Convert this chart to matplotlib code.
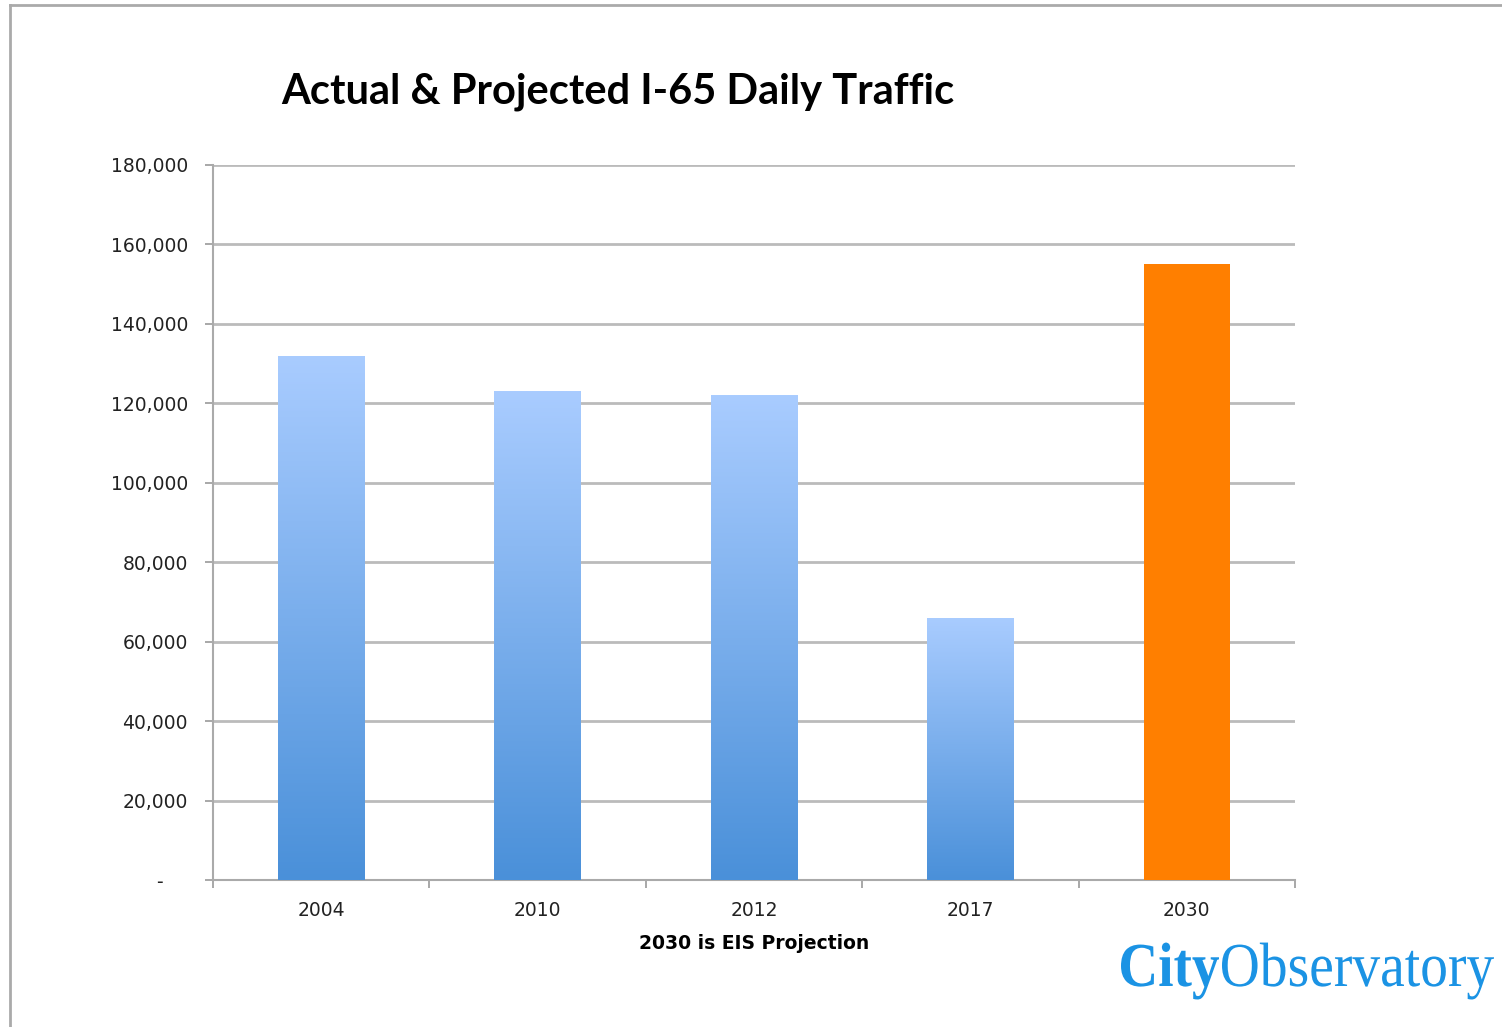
import matplotlib.pyplot as plt
import numpy as np
from matplotlib.colors import LinearSegmentedColormap
from matplotlib.lines import Line2D
from matplotlib.textpath import TextPath
from matplotlib.patches import PathPatch
from matplotlib.font_manager import FontProperties
from matplotlib.transforms import Affine2D, IdentityTransform

years = ["2004", "2010", "2012", "2017", "2030"]
traffic = [132000, 123000, 122000, 66000, 155000]
projected = [False, False, False, False, True]
y_ticks = [0, 20000, 40000, 60000, 80000, 100000, 120000, 140000, 160000, 180000]
y_labels = ["-    "] + [f"{v:,}" for v in y_ticks[1:]]

W, H = 1502, 1027
fig = plt.figure(figsize=(W / 100, H / 100), dpi=100)
ax = fig.add_axes([213 / W, 1 - 880 / H, (1295 - 213) / W, (880 - 165) / H])

grad = LinearSegmentedColormap.from_list("blu", ["#4a90d9", "#a9ccff"])
x = np.arange(len(years))
bars = ax.bar(x, traffic, width=0.40, color="none", edgecolor="none", zorder=3)
for b, p in zip(bars, projected):
    if p:
        b.set_facecolor("#ff7f00")
        continue
    x0, w, h = b.get_x(), b.get_width(), b.get_height()
    g = np.linspace(0, 1, 256).reshape(-1, 1)
    im = ax.imshow(g, cmap=grad, origin="lower", aspect="auto",
                   extent=[x0, x0 + w, 0, h], zorder=3)
    im.set_clip_path(b)

ax.set_xlim(-0.5, len(years) - 0.5)
ax.set_ylim(0, 180000)
ax.set_yticks(y_ticks)
ax.set_yticklabels(y_labels, fontsize=13.5, color="#222222")
ax.set_xticks(x)
ax.set_xticklabels(years, fontsize=13.5, color="#222222")
ax.set_xticks(np.arange(-0.5, len(years)), minor=True)
ax.tick_params(axis="x", which="major", length=0, pad=15)
ax.tick_params(axis="x", which="minor", length=6, color="#999999", width=1.2)
ax.tick_params(axis="y", length=6, color="#999999", width=1.2, pad=12)
ax.grid(axis="y", color="#bbbbbb", linewidth=2, zorder=0)
ax.set_axisbelow(True)
for s in ["top", "right"]:
    ax.spines[s].set_visible(False)
for s in ["left", "bottom"]:
    ax.spines[s].set_color("#aaaaaa")
    ax.spines[s].set_linewidth(1.5)
ax.set_xlabel("2030 is EIS Projection", fontsize=13.5, fontweight="bold", labelpad=10)

fig.text(618 / W, 1 - 92 / H, "Actual & Projected I-65 Daily Traffic",
         ha="center", va="center", fontsize=30, fontweight="bold", family="Lato")


# logo, drawn as text paths fitted to the box in the reference
def logo_word(s, weight, left, right, cap_px, baseline):
    tp = TextPath((0, 0), s, size=1, prop=FontProperties(family="Liberation Serif", weight=weight))
    ext = tp.get_extents()
    sy = cap_px / 0.655
    sx = (right - left) / ext.width
    tr = Affine2D().translate(-ext.x0, 0).scale(sx, sy).translate(left, H - baseline)
    fig.add_artist(PathPatch(tr.transform_path(tp), color="#1b93e4", lw=0,
                             transform=IdentityTransform()))


logo_word("City", "bold", 1121, 1219, 41, 986)
logo_word("Observatory", "normal", 1222, 1494, 41, 986)

# frame border
fig.add_artist(Line2D([10 / W, 1], [1 - 5 / H, 1 - 5 / H], color="#aaaaaa", lw=2,
                      transform=fig.transFigure))
fig.add_artist(Line2D([10 / W, 10 / W], [0, 1 - 5 / H], color="#aaaaaa", lw=2,
                      transform=fig.transFigure))

fig.savefig("out.png", dpi=100)
